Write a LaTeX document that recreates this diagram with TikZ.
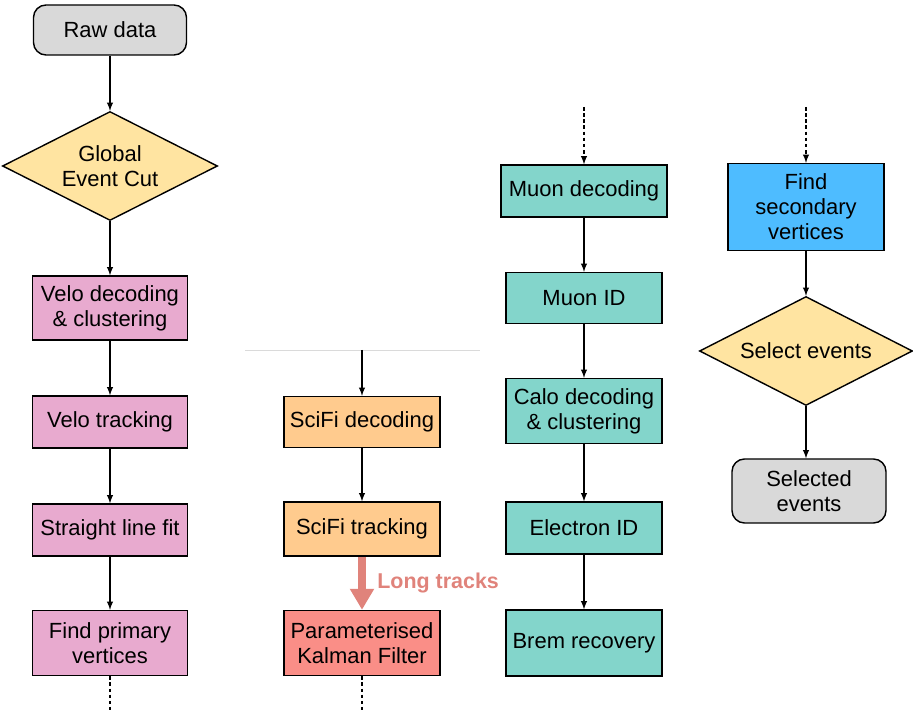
\documentclass[tikz,border=0pt]{standalone}
\usepackage{fontspec}
\setmainfont{Liberation Sans}
\usetikzlibrary{shapes.geometric,arrows.meta}
\pgfdeclarelayer{bg}
\pgfsetlayers{bg,main}
\definecolor{rawgray}{HTML}{D9D9D9}
\definecolor{cutyellow}{HTML}{FFE4A1}
\definecolor{velopink}{HTML}{E8AACF}
\definecolor{scifiorange}{HTML}{FFCB8E}
\definecolor{kalmanred}{HTML}{FA8E87}
\definecolor{muonteal}{HTML}{83D5CB}
\definecolor{svblue}{HTML}{4EBCFF}
\definecolor{trackred}{HTML}{E0837B}
\definecolor{linegray}{HTML}{DADADA}
\tikzset{
    every node/.style={font=\fontsize{12.5}{14.2}\selectfont, align=center}
}
\tikzset{
    stage/.style={rectangle, draw, line width=0.8pt, inner sep=0mm, minimum width=3.12cm},
    ends/.style={stage, rounded corners=2.5mm, fill=rawgray},
    cut/.style={diamond, aspect=2, draw, line width=0.8pt, inner sep=0mm, fill=cutyellow, minimum width=4.30cm, minimum height=2.18cm},
    flow/.style={-latex, semithick},
    feed/.style={-latex, semithick, dash pattern=on 2pt off 1.5pt},
    tail/.style={semithick, dash pattern=on 2pt off 1.5pt},
    longtrk/.style={-{Triangle[length=4.2mm,width=4.6mm]}, line width=4pt, draw=trackred},
    trklabel/.style={right, xshift=0.12cm, text=trackred, font=\fontsize{12.2}{14.2}\selectfont\bfseries}
}

\begin{document}
\begin{tikzpicture}
        \useasboundingbox (0cm, 0cm) rectangle (18.260000cm, -14.240000cm);
        \node (v0) [ends, minimum width=3.06cm, minimum height=1.00cm] at (2.200000cm, -0.600000cm) {Raw data};
        \node (v1) [cut] at (2.200000cm, -3.320000cm) {Global\\Event Cut};
        \node (v2) [stage, fill=velopink, minimum width=3.10cm, minimum height=1.28cm] at (2.200000cm, -6.160000cm) {Velo decoding\\\& clustering};
        \node (v3) [stage, fill=velopink, minimum width=3.10cm, minimum height=1.04cm] at (2.200000cm, -8.440000cm) {Velo tracking};
        \node (v4) [stage, fill=velopink, minimum width=3.10cm, minimum height=1.04cm] at (2.200000cm, -10.600000cm) {Straight line fit};
        \node (v5) [stage, fill=velopink, minimum width=3.10cm, minimum height=1.30cm] at (2.200000cm, -12.860000cm) {Find primary\\vertices};
        \node (v6) [stage, fill=scifiorange, minimum height=1.02cm] at (7.240000cm, -8.440000cm) {SciFi decoding};
        \node (v7) [stage, fill=scifiorange, minimum height=1.08cm] at (7.240000cm, -10.580000cm) {SciFi tracking};
        \node (v8) [stage, fill=kalmanred, minimum height=1.30cm] at (7.240000cm, -12.860000cm) {Parameterised\\Kalman Filter};
        \node (v9) [stage, fill=muonteal, minimum width=3.32cm, minimum height=1.04cm] at (11.680000cm, -3.820000cm) {Muon decoding};
        \node (v10) [stage, fill=muonteal, minimum height=1.02cm] at (11.680000cm, -5.960000cm) {Muon ID};
        \node (v11) [stage, fill=muonteal, minimum height=1.30cm] at (11.680000cm, -8.220000cm) {Calo decoding\\\& clustering};
        \node (v12) [stage, fill=muonteal, minimum height=1.04cm] at (11.680000cm, -10.560000cm) {Electron ID};
        \node (v13) [stage, fill=muonteal, minimum height=1.32cm] at (11.680000cm, -12.860000cm) {Brem recovery};
        \node (v14) [stage, fill=svblue, minimum height=1.74cm] at (16.120000cm, -4.140000cm) {Find\\secondary\\vertices};
        \node (v15) [cut, minimum width=4.26cm] at (16.120000cm, -7.020000cm) {Select events};
        \node (v16) [ends, minimum width=3.08cm, minimum height=1.28cm] at (16.180000cm, -9.820000cm) {Selected\\events};
        \coordinate (c0) at (2.200000cm, -14.240000cm);
        \coordinate (c1) at (7.240000cm, -7.000000cm);
        \coordinate (c2) at (7.240000cm, -14.240000cm);
        \coordinate (c3) at (11.680000cm, -2.140000cm);
        \coordinate (c4) at (16.120000cm, -2.140000cm);
        \coordinate (c5) at (4.900000cm, -7.000000cm);
        \coordinate (c6) at (9.600000cm, -7.000000cm);
        \begin{pgfonlayer}{bg}
                \draw (c5) edge [draw=linegray, thin] (c6);
                \draw (v0) edge [flow] (v1);
                \draw (v1) edge [flow] (v2);
                \draw (v2) edge [flow] (v3);
                \draw (v3) edge [flow] (v4);
                \draw (v4) edge [flow] (v5);
                \draw (v5) edge [tail] (c0);
                \draw (c1) edge [flow] (v6);
                \draw (v6) edge [flow] (v7);
                \draw (v7) edge [longtrk] node (v17) [trklabel] {Long tracks} (v8);
                \draw (v8) edge [tail] (c2);
                \draw (c3) edge [feed] (v9);
                \draw (v9) edge [flow] (v10);
                \draw (v10) edge [flow] (v11);
                \draw (v11) edge [flow] (v12);
                \draw (v12) edge [flow] (v13);
                \draw (c4) edge [feed] (v14);
                \draw (v14) edge [flow] (v15);
                \draw (v15) edge [flow] (v16.north -| v15);
        \end{pgfonlayer}
\end{tikzpicture}
\end{document}
